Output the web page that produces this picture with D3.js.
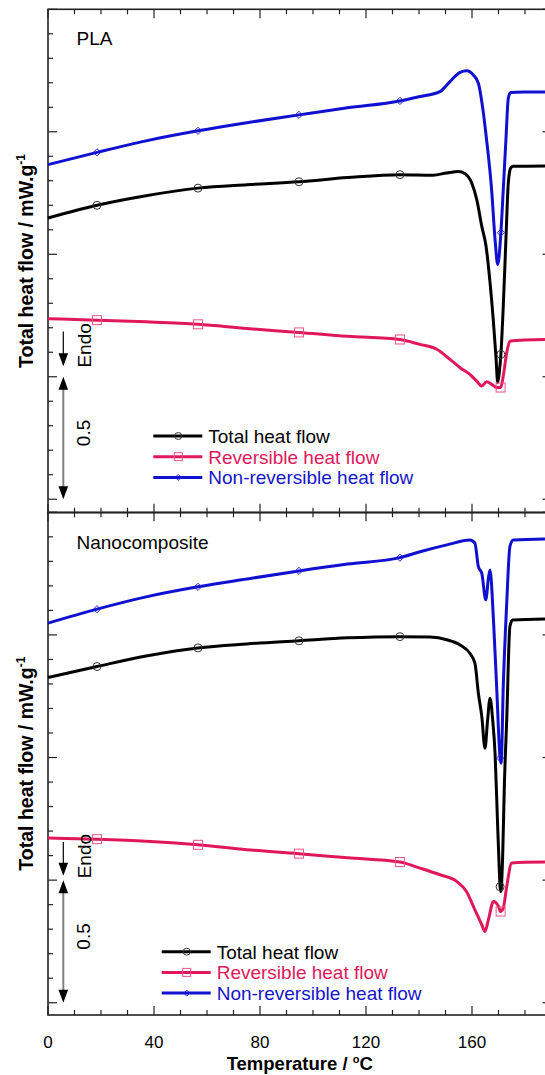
<!DOCTYPE html>
<html><head><meta charset="utf-8">
<script src="https://cdn.jsdelivr.net/npm/d3@7"></script>
<style>body{margin:0;background:#fff} svg{display:block;font-family:"Liberation Sans",Arial,sans-serif}</style>
</head><body><svg id="c" width="545" height="1075"></svg>
<script>
// ---------- data (temperature °C, heat flow mW/g, offset per panel) ----------
const xTickLabels = [0, 40, 80, 120, 160];
const seriesNames = ["Total heat flow", "Reversible heat flow", "Non-reversible heat flow"];

// PLA panel
const plaTotalT = [0,18.5,37,56.6,75,94.7,113,132.8,145.3,150.5,154.9,157.4,159.9,161.8,163.7,165.3,166.8,168.1,169.1,169.7,170.3,170.9,171.8,172.8,173.7,174.6,175.6,190];
const plaTotalV = [-0.852,-0.800,-0.761,-0.730,-0.716,-0.704,-0.687,-0.675,-0.677,-0.668,-0.662,-0.671,-0.709,-0.777,-0.886,-0.967,-1.115,-1.278,-1.429,-1.523,-1.482,-1.409,-1.212,-0.940,-0.709,-0.648,-0.641,-0.639];
const plaTotalMarks = [18.5,56.6,94.7,132.8,170.9];

const plaRevT = [0,18.5,37,56.6,75,94.7,113,132.8,140.3,146.7,151.7,155.5,159.2,161.8,163.7,165.5,167.4,169.3,170.8,171.8,173.1,174.3,180,190];
const plaRevV = [-1.263,-1.269,-1.276,-1.286,-1.303,-1.319,-1.335,-1.348,-1.368,-1.388,-1.429,-1.463,-1.490,-1.518,-1.538,-1.520,-1.531,-1.544,-1.544,-1.497,-1.402,-1.355,-1.350,-1.348];
const plaRevMarks = [18.5,56.6,94.7,132.8,170.8];

const plaNonT = [0,18.5,37,56.6,75,94.7,113,132.8,140,147.9,151.7,155.5,158,160.5,162.4,164.3,165.5,167.4,168.7,169.7,170.9,171.8,172.8,173.7,174.6,180,190];
const plaNonV = [-0.634,-0.584,-0.537,-0.496,-0.463,-0.431,-0.402,-0.374,-0.357,-0.336,-0.295,-0.257,-0.251,-0.268,-0.302,-0.424,-0.533,-0.736,-0.940,-1.042,-0.912,-0.736,-0.533,-0.363,-0.340,-0.338,-0.337];
const plaNonMarks = [18.5,56.6,94.7,132.8,170.9];

// Nanocomposite panel
const nanoTotalT = [0,18.5,37,56.6,75,94.7,113,132.8,144.2,150.5,155.5,159.2,161.1,162.4,163.7,164.9,165.9,166.8,167.8,168.7,169.6,170.3,170.6,170.9,171.6,172.2,173.1,174.3,175.3,190];
const nanoTotalV = [-0.674,-0.629,-0.586,-0.553,-0.537,-0.524,-0.512,-0.507,-0.509,-0.520,-0.541,-0.575,-0.615,-0.738,-0.833,-0.962,-0.846,-0.758,-0.846,-0.982,-1.254,-1.458,-1.527,-1.546,-1.390,-1.118,-0.846,-0.466,-0.439,-0.435];
const nanoTotalMarks = [18.5,56.6,94.7,132.8,170.6];

const nanoRevT = [0,18.5,37,56.6,75,94.7,113,132.8,140.4,147.9,154.2,157.9,161.1,163.7,164.9,166.2,168.1,170.0,170.8,171.8,173.1,175.0,180,190];
const nanoRevV = [-1.328,-1.333,-1.341,-1.356,-1.376,-1.392,-1.409,-1.426,-1.451,-1.478,-1.505,-1.546,-1.621,-1.682,-1.709,-1.661,-1.587,-1.607,-1.628,-1.614,-1.526,-1.430,-1.427,-1.426];
const nanoRevMarks = [18.5,56.6,94.7,132.8,170.8];

const nanoNonT = [0,18.5,37,56.6,75,94.7,113,132.8,140.4,150.5,159.2,161.1,162.4,163.7,165.2,166.2,166.8,168.1,169.3,170.6,171.0,171.8,173.1,174.3,175.6,190];
const nanoNonV = [-0.452,-0.395,-0.345,-0.304,-0.272,-0.239,-0.211,-0.185,-0.161,-0.133,-0.113,-0.126,-0.222,-0.249,-0.357,-0.268,-0.235,-0.439,-0.711,-1.002,-1.023,-0.711,-0.371,-0.140,-0.113,-0.109];
const nanoNonMarks = [18.5,56.6,94.7,132.8,170.6];

// scale-bar / endo arrow values (mW/g)
const plaEndo = [-1.315, -1.457];
const nanoEndo = [-1.345, -1.482];
const scaleBar = [-1.5, -2.0];

// ---------- drawing ----------
const colors = ["#000000", "#e0185a", "#1010d0"];
const markColors = ["#333333", "#ee5588", "#2020dd"];
const textColors = ["#000000", "#e0185a", "#1515cc"];
const svg = d3.select("#c");
const x = d3.scaleLinear().domain([0, 190]).range([48, 551.5]);

const zip = (T, V) => T.map((t, i) => ({t, v: V[i]}));
const panels = [
  {name: "PLA", y: d3.scaleLinear().domain([-2.055, 0]).range([512.7, 9.3]),
   series: [zip(plaTotalT, plaTotalV), zip(plaRevT, plaRevV), zip(plaNonT, plaNonV)],
   marks: [plaTotalMarks, plaRevMarks, plaNonMarks], endo: plaEndo,
   legX: 153.3, legY: 436, labelY: 45, axisLabels: false},
  {name: "Nanocomposite", y: d3.scaleLinear().domain([-2.05, 0]).range([1015, 512.3]),
   series: [zip(nanoTotalT, nanoTotalV), zip(nanoRevT, nanoRevV), zip(nanoNonT, nanoNonV)],
   marks: [nanoTotalMarks, nanoRevMarks, nanoNonMarks], endo: nanoEndo,
   legX: 161.7, legY: 951.7, labelY: 549.3, axisLabels: true}
];

function drawMarker(g, k, cx, cy, legend) {
  if (k === 0) {
    g.append("circle").attr("cx", cx).attr("cy", cy).attr("r", legend ? 3.5 : 4)
      .attr("fill", "none").attr("stroke", markColors[0]).attr("stroke-width", 1);
  } else if (k === 1) {
    const s = legend ? 8 : 9;
    g.append("rect").attr("x", cx - s / 2).attr("y", cy - s / 2).attr("width", s).attr("height", s)
      .attr("fill", "none").attr("stroke", markColors[1]).attr("stroke-width", 1);
  } else {
    const s = legend ? 3 : 3.6;
    g.append("path").attr("d", `M${cx},${cy - s}L${cx + s},${cy}L${cx},${cy + s}L${cx - s},${cy}Z`)
      .attr("fill", "none").attr("stroke", markColors[2]).attr("stroke-width", 1);
  }
}

function arrowHead(g, xx, tipY, dir) { // dir +1 pointing down, -1 pointing up
  g.append("path").attr("d", `M${xx},${tipY}L${xx - 4.8},${tipY - dir * 13}L${xx + 4.8},${tipY - dir * 13}Z`).attr("fill", "#000");
}

const xMinor = d3.range(0, 190, 10);
panels.forEach(p => {
  const y = p.y;
  const g = svg.append("g");
  const [yb, yt] = y.range();
  const xl = x.range()[0], xr = x.range()[1];
  const frame = "#222";
  // frame
  g.append("rect").attr("x", xl).attr("y", yt).attr("width", xr - xl).attr("height", yb - yt)
    .attr("fill", "none").attr("stroke", frame).attr("stroke-width", 1.6);
  // y ticks
  const yTicks = d3.range(0, 21).map(i => -i * 0.1);
  yTicks.forEach((v, i) => {
    const major = i % 5 === 0;
    g.append("line").attr("x1", xl).attr("x2", xl + (major ? 9 : 5))
      .attr("y1", y(v)).attr("y2", y(v)).attr("stroke", frame).attr("stroke-width", 1.2);
    if (major) g.append("line").attr("x1", xr).attr("x2", xr - 9)
      .attr("y1", y(v)).attr("y2", y(v)).attr("stroke", frame).attr("stroke-width", 1.2);
  });
  // x ticks top (down) and bottom (up)
  xMinor.forEach(t => {
    const major = t % 40 === 0;
    const len = major ? 9 : 5;
    g.append("line").attr("x1", x(t)).attr("x2", x(t)).attr("y1", yt).attr("y2", yt + len)
      .attr("stroke", frame).attr("stroke-width", 1.2);
    g.append("line").attr("x1", x(t)).attr("x2", x(t)).attr("y1", yb).attr("y2", yb - len)
      .attr("stroke", frame).attr("stroke-width", 1.2);
  });
  // panel label
  g.append("text").attr("x", 76.5).attr("y", p.labelY).attr("font-size", 19).attr("fill", "#000").text(p.name);
  // y title
  const cy = (yb + yt) / 2;
  const yt1 = g.append("text").attr("transform", `translate(33,${cy}) rotate(-90)`)
    .attr("text-anchor", "middle").attr("font-size", 19.5).attr("font-weight", "bold").attr("fill", "#000");
  yt1.append("tspan").text("Total heat flow / mW.g");
  yt1.append("tspan").attr("font-size", 12).attr("dy", -8).text("-1");

  // series lines
  const line = d3.line().x(d => x(d.t)).y(d => y(d.v)).curve(d3.curveMonotoneX);
  [1, 0, 2].forEach(k => {
    g.append("path").datum(p.series[k]).attr("d", line).attr("fill", "none")
      .attr("stroke", colors[k]).attr("stroke-width", 3).attr("stroke-linejoin", "round");
  });
  [1, 0, 2].forEach(k => {
    p.marks[k].forEach(mt => {
      const d = p.series[k].find(q => q.t === mt);
      if (d) drawMarker(g, k, x(d.t), y(d.v), false);
    });
  });

  // endo arrow
  const ax = 63.3;
  g.append("line").attr("x1", ax).attr("x2", ax).attr("y1", y(p.endo[0])).attr("y2", y(p.endo[1]) - 10)
    .attr("stroke", "#000").attr("stroke-width", 1.2);
  arrowHead(g, ax, y(p.endo[1]), 1);
  g.append("text").attr("transform", `translate(91,${y(p.endo[0]) + 14}) rotate(-90)`)
    .attr("text-anchor", "middle").attr("font-size", 19).attr("fill", "#000").text("Endo");
  // scale bar 0.5
  g.append("line").attr("x1", ax).attr("x2", ax).attr("y1", y(scaleBar[0]) + 10).attr("y2", y(scaleBar[1]) - 10)
    .attr("stroke", "#808080").attr("stroke-width", 2);
  arrowHead(g, ax, y(scaleBar[0]), -1);
  arrowHead(g, ax, y(scaleBar[1]), 1);
  g.append("text").attr("transform", `translate(90,${(y(scaleBar[0]) + y(scaleBar[1])) / 2 - 5}) rotate(-90)`)
    .attr("text-anchor", "middle").attr("font-size", 19).attr("fill", "#000").text("0.5");

  // legend
  seriesNames.forEach((nm, k) => {
    const ly = p.legY + k * 20.7;
    g.append("line").attr("x1", p.legX).attr("x2", p.legX + 49).attr("y1", ly).attr("y2", ly)
      .attr("stroke", colors[k]).attr("stroke-width", 3);
    drawMarker(g, k, p.legX + 25, ly, true);
    g.append("text").attr("x", p.legX + 55).attr("y", ly).attr("dy", "0.36em")
      .attr("font-size", 19).attr("fill", textColors[k]).text(nm);
  });

  // x labels
  if (p.axisLabels) {
    xTickLabels.forEach(t => {
      g.append("text").attr("x", x(t)).attr("y", 1047.5).attr("text-anchor", "middle")
        .attr("font-size", 17).attr("fill", "#000").text(t);
    });
    const xt = g.append("text").attr("x", (x.range()[0] + x.range()[1]) / 2).attr("y", 1069.5)
      .attr("text-anchor", "middle").attr("font-size", 18.5).attr("font-weight", "bold").attr("fill", "#000");
    xt.append("tspan").text("Temperature / ");
    xt.append("tspan").attr("font-size", 11).attr("dy", -6.5).text("o");
    xt.append("tspan").attr("dy", 6.5).text("C");
  }
});
</script></body></html>
